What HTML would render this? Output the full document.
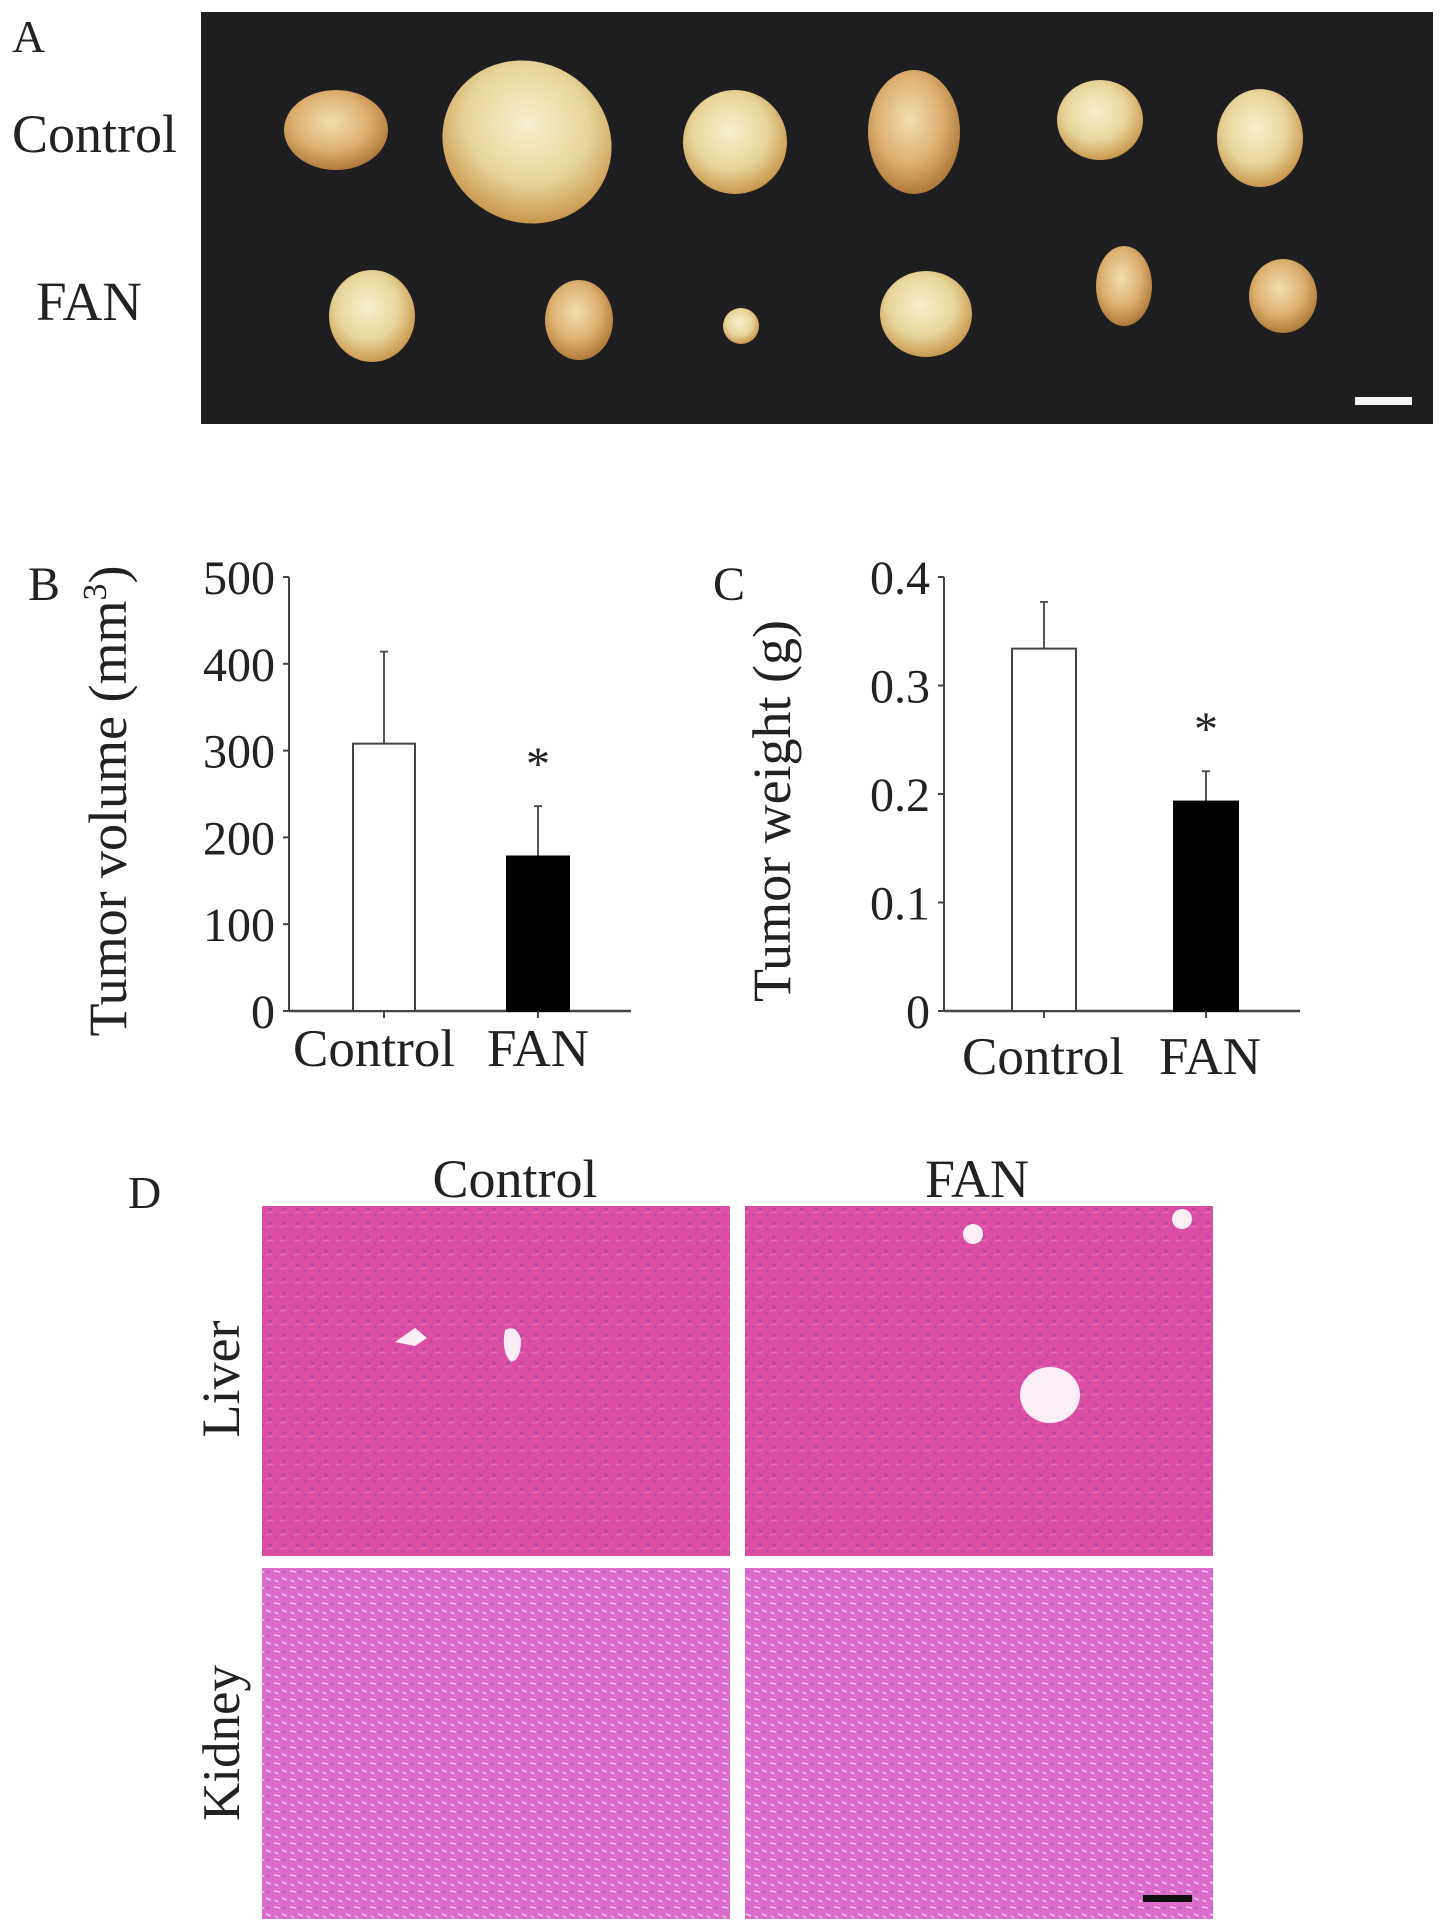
<!DOCTYPE html>
<html><head><meta charset="utf-8"><style>
html,body{margin:0;padding:0;background:#fff;}
svg{display:block;font-family:"Liberation Serif",serif;}
</style></head><body>
<svg width="1441" height="1925" viewBox="0 0 1441 1925">
<defs>
<radialGradient id="tum" cx="45%" cy="40%" r="60%"><stop offset="0" stop-color="#f7f0cf"/><stop offset="0.6" stop-color="#e8d59a"/><stop offset="1" stop-color="#c9994f"/></radialGradient>
<radialGradient id="tumo" cx="45%" cy="40%" r="60%"><stop offset="0" stop-color="#f2dfae"/><stop offset="0.6" stop-color="#dcb070"/><stop offset="1" stop-color="#b07a3a"/></radialGradient>
<pattern id="liverTex" width="14" height="14" patternUnits="userSpaceOnUse"><rect width="14" height="14" fill="#db4ea4"/><circle cx="4" cy="5" r="1.6" fill="#8e3fa6" opacity="0.5"/><circle cx="11" cy="11" r="1.3" fill="#8e3fa6" opacity="0.4"/><path d="M0 9 L7 8" stroke="#f08ac8" stroke-width="1" opacity="0.6"/></pattern>
<pattern id="kidTex" width="16" height="16" patternUnits="userSpaceOnUse"><rect width="16" height="16" fill="#dc6ccc"/><path d="M2 3 L8 4 M10 10 L15 12 M3 12 L6 14" stroke="#f6c4ec" stroke-width="1.6"/><circle cx="12" cy="4" r="1.3" fill="#8a4cb0" opacity="0.5"/></pattern>
</defs>

<!-- Panel A -->
<text x="12" y="52" font-size="46" fill="#222">A</text>
<text x="12" y="152" font-size="54" fill="#222">Control</text>
<text x="36" y="320" font-size="55" fill="#222">FAN</text>
<rect x="201" y="12" width="1232" height="412" fill="#1e1e20"/>
<g>
<ellipse cx="336" cy="130" rx="52" ry="40" fill="url(#tumo)"/>
<ellipse cx="527" cy="142" rx="86" ry="80" fill="url(#tum)" transform="rotate(30 527 142)"/>
<ellipse cx="735" cy="142" rx="52" ry="52" fill="url(#tum)"/>
<ellipse cx="914" cy="132" rx="46" ry="62" fill="url(#tumo)"/>
<ellipse cx="1100" cy="120" rx="43" ry="40" fill="url(#tum)"/>
<ellipse cx="1260" cy="138" rx="43" ry="49" fill="url(#tum)"/>
</g>
<g>
<ellipse cx="372" cy="316" rx="43" ry="46" fill="url(#tum)"/>
<ellipse cx="579" cy="320" rx="34" ry="40" fill="url(#tumo)"/>
<ellipse cx="741" cy="326" rx="18" ry="18" fill="url(#tum)"/>
<ellipse cx="926" cy="314" rx="46" ry="43" fill="url(#tum)"/>
<ellipse cx="1124" cy="286" rx="28" ry="40" fill="url(#tumo)"/>
<ellipse cx="1283" cy="296" rx="34" ry="37" fill="url(#tumo)"/>
</g>
<rect x="1355" y="397" width="57" height="8" fill="#f4f4f4"/>

<g id="chartB"></g>
<g id="chartC"></g>

<!-- Panel D -->
<text x="128" y="1208" font-size="46" fill="#222">D</text>
<text x="515" y="1197" font-size="54" fill="#222" text-anchor="middle">Control</text>
<text x="977" y="1197" font-size="54" fill="#222" text-anchor="middle">FAN</text>
<text transform="translate(239 1379) rotate(-90)" font-size="54" fill="#222" text-anchor="middle">Liver</text>
<text transform="translate(239 1743) rotate(-90)" font-size="53" fill="#222" text-anchor="middle">Kidney</text>
<rect x="262" y="1206" width="468" height="350" fill="url(#liverTex)"/>
<rect x="745" y="1206" width="468" height="350" fill="url(#liverTex)"/>
<rect x="262" y="1568" width="468" height="351" fill="url(#kidTex)"/>
<rect x="745" y="1568" width="468" height="351" fill="url(#kidTex)"/>
<path d="M395 1342 l20 -14 l12 10 l-12 8 z M505 1330 q12 -6 16 10 q0 20 -10 22 q-10 -10 -6 -32z" fill="#fbeef6"/>
<ellipse cx="1050" cy="1395" rx="30" ry="28" fill="#fbeef6"/>
<circle cx="1182" cy="1219" r="10" fill="#fbeef6"/>
<circle cx="973" cy="1234" r="10" fill="#fbeef6"/>
<rect x="1143" y="1895" width="49" height="7" fill="#111"/>
</svg>
<script>
const NS='http://www.w3.org/2000/svg';
const catsB=['Control','FAN'];
const valsB=[308,178];
const errsB=[414,236];
const ticksB=[0,100,200,300,400,500];
const tickLabelsB=['0','100','200','300','400','500'];
const catsC=['Control','FAN'];
const valsC=[0.334,0.193];
const errsC=[0.377,0.221];
const ticksC=[0,0.1,0.2,0.3,0.4];
const tickLabelsC=['0','0.1','0.2','0.3','0.4'];

function mk(tag,attrs,parent){const e=document.createElementNS(NS,tag);for(const k in attrs)e.setAttribute(k,attrs[k]);parent.appendChild(e);return e;}
function draw(cfg){
  const g=document.getElementById(cfg.id);
  const y=v=>cfg.y0-(v-cfg.min)/(cfg.max-cfg.min)*(cfg.y0-cfg.y1);
  const ax=mk('line',{x1:cfg.ax,y1:y(cfg.max),x2:cfg.ax,y2:cfg.y0,stroke:'#444','stroke-width':2},g);
  
  
  const xa=mk('line',{x1:cfg.ax,y1:cfg.y0,x2:cfg.axR,y2:cfg.y0,stroke:'#444','stroke-width':2.5},g);
  
  
  cfg.ticks.forEach((t,i)=>{
    mk('line',{x1:cfg.ax-6,y1:y(t),x2:cfg.ax,y2:y(t),stroke:'#444','stroke-width':2},g);
    const tl=mk('text',{x:cfg.ax-14,y:y(t)+17,'font-size':48,fill:'#222','text-anchor':'end'},g);
    tl.textContent=cfg.tickLabels[i];
    
    
  });
  cfg.cats.forEach((c,i)=>{
    const cx=cfg.cx[i], w=cfg.bw;
    const top=y(cfg.vals[i]), et=y(cfg.errs[i]);
    const ew=mk('line',{x1:cx,y1:et,x2:cx,y2:top,stroke:'#555','stroke-width':2},g);
    
    
    mk('line',{x1:cx-4,y1:et,x2:cx+4,y2:et,stroke:'#555','stroke-width':2},g);
    const b=mk('rect',{x:cx-w/2,y:top,width:w,height:cfg.y0-top,fill:i==0?'#fff':'#000',stroke:i==0?'#444':'#000','stroke-width':2},g);
    
    
    mk('line',{x1:cx,y1:cfg.y0,x2:cx,y2:cfg.y0+7,stroke:'#444','stroke-width':2},g);
    const xl=mk('text',{x:cfg.lx[i],y:cfg.ly,'font-size':53,fill:'#222','text-anchor':'middle'},g);
    xl.textContent=c;
    
    
  });
  const st=mk('text',{x:cfg.cx[1],y:y(cfg.errs[1])-26,'font-size':48,fill:'#222','text-anchor':'middle'},g);
  st.textContent='*';
  
  
  const pl=mk('text',{x:cfg.plx,y:600,'font-size':48,fill:'#222'},g);
  pl.textContent=cfg.panel;
  
  
  const tt=mk('text',{transform:`translate(${cfg.tx} ${cfg.ty}) rotate(-90)`,'font-size':54,fill:'#222','text-anchor':'middle'},g);
  tt.innerHTML=cfg.title;
  
  
}
draw({id:'chartB',cats:catsB,vals:valsB,errs:errsB,ticks:ticksB,tickLabels:tickLabelsB,min:0,max:500,y0:1011,y1:577,ax:289,axR:631,cx:[384,538],bw:62,lx:[374,538],ly:1066,plx:28,panel:'B',tx:126,ty:801,title:'Tumor volume (mm<tspan dy="-20" font-size="34">3</tspan><tspan dy="20">)</tspan>'});
draw({id:'chartC',cats:catsC,vals:valsC,errs:errsC,ticks:ticksC,tickLabels:tickLabelsC,min:0,max:0.4,y0:1011,y1:577,ax:944,axR:1300,cx:[1044,1206],bw:64,lx:[1043,1210],ly:1074,plx:713,panel:'C',tx:790,ty:811,title:'Tumor weight (g)'});
</script>
</body></html>
